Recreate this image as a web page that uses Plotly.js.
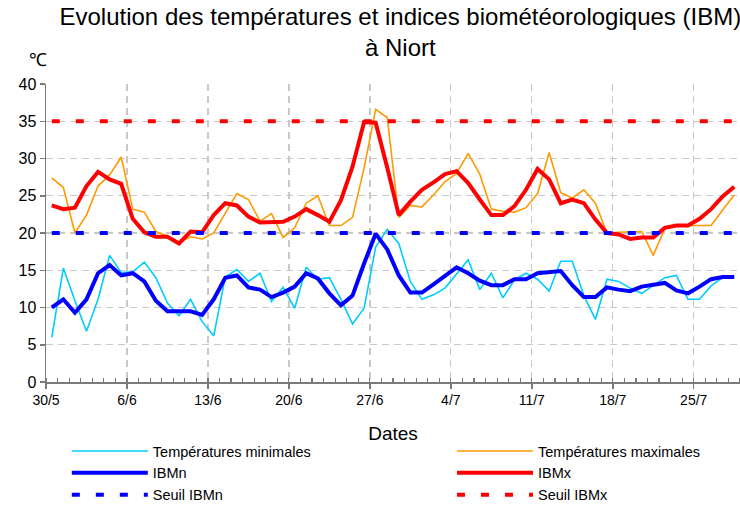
<!DOCTYPE html>
<html>
<head>
<meta charset="utf-8">
<script src="https://cdn.plot.ly/plotly-3.0.1.min.js"></script>
<style>html,body{margin:0;padding:0;background:#fff}#chart{width:740px;height:505px}</style>
</head>
<body>
<div id="chart"></div>
<script>
const dates = ['30/5','31/5','1/6','2/6','3/6','4/6','5/6','6/6','7/6','8/6','9/6','10/6','11/6','12/6','13/6','14/6','15/6','16/6','17/6','18/6','19/6','20/6','21/6','22/6','23/6','24/6','25/6','26/6','27/6','28/6','29/6','30/6','1/7','2/7','3/7','4/7','5/7','6/7','7/7','8/7','9/7','10/7','11/7','12/7','13/7','14/7','15/7','16/7','17/7','18/7','19/7','20/7','21/7','22/7','23/7','24/7','25/7','26/7','27/7','28/7'];
const tickLabels = ['30/5','6/6','13/6','20/6','27/6','4/7','11/7','18/7','25/7'];
const tmin = [6.0,15.3,10.9,6.8,11.1,17.0,14.7,14.8,16.1,14.0,10.6,8.9,11.1,8.1,6.2,14.1,15.1,13.5,14.6,10.8,12.7,9.9,15.4,13.8,14.0,11.1,7.8,9.9,18.1,20.5,18.6,13.5,11.1,11.7,12.6,14.5,16.4,12.4,14.6,11.3,13.7,14.6,13.8,12.2,16.2,16.2,11.6,8.4,13.8,13.5,12.6,11.9,13.0,14.0,14.3,11.1,11.1,12.9,14.0,14.1];
const tmax = [27.4,26.1,20.0,22.4,26.3,27.8,30.2,23.2,22.8,20.2,19.6,18.7,19.5,19.2,20.0,22.7,25.3,24.5,21.6,22.6,19.4,20.7,24.0,25.0,21.0,21.0,22.1,28.7,36.6,35.5,22.1,23.7,23.5,25.1,26.9,28.0,30.7,27.9,23.2,22.9,22.8,23.4,25.3,30.8,25.4,24.7,25.8,24.0,20.0,20.1,20.2,20.2,17.0,20.6,21.0,21.0,21.0,21.0,23.1,25.1];
const ibmn = [10.0,11.1,9.3,11.1,14.6,15.7,14.3,14.6,13.5,10.9,9.5,9.5,9.5,9.0,11.1,14.0,14.3,12.7,12.4,11.4,12.0,12.8,14.6,13.9,11.9,10.3,11.6,15.9,19.9,17.8,14.3,12.0,12.0,13.1,14.3,15.4,14.6,13.6,13.0,13.0,13.8,13.8,14.6,14.7,14.9,13.0,11.4,11.4,12.7,12.4,12.2,12.8,13.1,13.3,12.3,11.9,12.8,13.8,14.1,14.1];
const ibmx = [23.7,23.2,23.4,26.3,28.2,27.2,26.6,21.9,20.1,19.5,19.5,18.6,20.2,20.1,22.4,24.0,23.7,22.2,21.4,21.4,21.5,22.2,23.2,22.4,21.5,24.4,28.9,34.9,34.8,28.8,22.4,24.2,25.8,26.8,27.9,28.3,26.7,24.5,22.4,22.4,23.6,25.8,28.6,27.2,24.0,24.5,24.0,21.8,20.0,19.8,19.2,19.4,19.4,20.7,21.0,21.0,21.9,23.2,24.9,26.2];
const seuilN = 20;
const seuilX = 35;
const yTicks = [0,5,10,15,20,25,30,35,40];

const xs = dates.map((d, i) => i);
const tickIdx = tickLabels.map(t => dates.indexOf(t));
const FONT = '"Liberation Sans", Arial, sans-serif';

function tr(name, y, color, width, dash, leg) {
  return {type:'scatter', mode:'lines', name:name, x:xs, y:y, legend:leg,
    line:{color:color, width:width, dash:dash||'solid'}, hoverinfo:'skip'};
}
const data = [
  tr('Températures minimales', tmin, '#00CCFF', 1.6, 'solid', 'legend'),
  tr('Températures maximales', tmax, '#FF9900', 1.6, 'solid', 'legend2'),
  tr('IBMn', ibmn, '#0000FF', 4, 'solid', 'legend'),
  tr('IBMx', ibmx, '#FF0000', 4, 'solid', 'legend2'),
  tr('Seuil IBMn', dates.map(() => seuilN), '#0000FF', 4, '8px,16px', 'legend'),
  tr('Seuil IBMx', dates.map(() => seuilX), '#FF0000', 4, '8px,16px', 'legend2')
];

const legBase = {orientation:'v', xanchor:'left', y:-0.178, yanchor:'top', itemwidth:76,
  font:{family:FONT, size:14.5, color:'#000'}, bgcolor:'rgba(0,0,0,0)', tracegroupgap:0, traceorder:'normal'};

const layout = {
  width:740, height:505,
  paper_bgcolor:'#fff', plot_bgcolor:'#fff',
  margin:{l:46, r:0, t:84, b:123, autoexpand:false},
  font:{family:FONT, color:'#000'},
  showlegend:true,
  title:{text:'Evolution des températures et indices biométéorologiques (IBM)<br>à Niort',
    font:{family:FONT, size:24, color:'#000'}, x:0.541, xanchor:'center', xref:'container',
    y:0.95, yanchor:'top', yref:'container'},
  xaxis:{type:'linear', range:[-0.5, dates.length-0.5], fixedrange:true,
    tickmode:'array', tickvals:tickIdx.map(i => i-0.5), ticktext:tickLabels,
    ticklabelshift: 5.8,
    showgrid:true, gridcolor:'#c8c8c8', gridwidth:1.3, griddash:'7px,5px',
    showline:true, linecolor:'#7a7a7a', linewidth:1.5,
    ticks:'outside', ticklen:5, tickcolor:'#7a7a7a', tickwidth:1.5,
    minor:{tickmode:'linear', tick0:-0.5, dtick:1, ticks:'inside', ticklen:4, tickcolor:'#7a7a7a', tickwidth:1.2, showgrid:false},
    tickfont:{family:FONT, size:14, color:'#000'},
    zeroline:false, automargin:false,
    title:{text:'Dates', font:{family:FONT, size:19, color:'#000'}, standoff:19}},
  yaxis:{range:[0,40], fixedrange:true, tickmode:'array', tickvals:yTicks,
    showgrid:true, gridcolor:'#c8c8c8', gridwidth:1.3, griddash:'7px,5px',
    showline:true, linecolor:'#7a7a7a', linewidth:1.5,
    ticks:'outside', ticklen:5, tickcolor:'#7a7a7a', tickwidth:1.5,
    tickfont:{family:FONT, size:16, color:'#000'}, zeroline:false, automargin:false},
  legend:Object.assign({}, legBase, {x:0.03}),
  legend2:Object.assign({}, legBase, {x:0.585}),
  annotations:[{text:'℃', xref:'paper', yref:'paper', x:-0.028, y:1.04, xanchor:'left', yanchor:'bottom',
    showarrow:false, font:{family:FONT, size:18, color:'#000'}}]
};
Plotly.newPlot('chart', data, layout, {displayModeBar:false, staticPlot:true});
</script>
</body>
</html>
